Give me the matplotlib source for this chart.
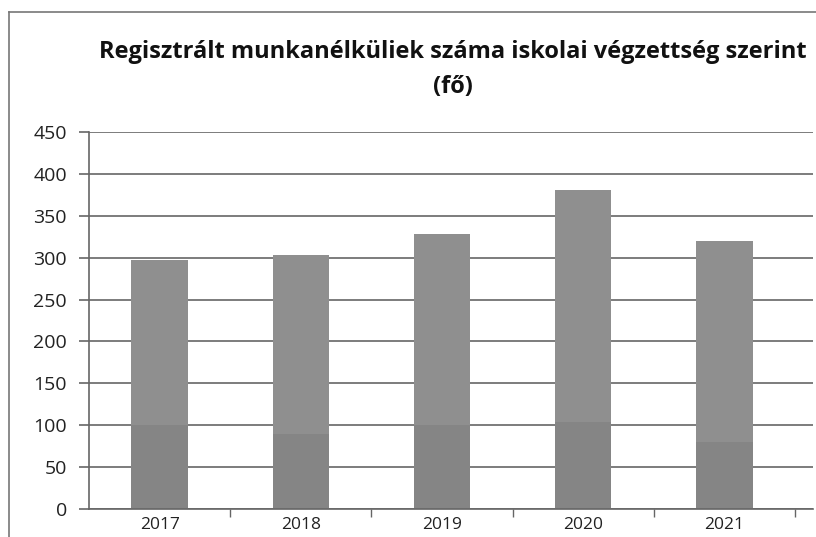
import matplotlib.pyplot as plt

# ==== Data ====
years = ["2017", "2018", "2019", "2020", "2021"]
lower_part = [100, 90, 100, 104, 80]
upper_part = [197, 213, 228, 277, 240]

W, H = 816, 537
plt.rcParams['font.family'] = ['Open Sans', 'DejaVu Sans']

fig = plt.figure(figsize=(W / 100, H / 100), dpi=100)
fig.patch.set_facecolor('white')

# plot area in pixel coords (left 89, bottom 509, top 132, right 813)
ax = fig.add_axes([89 / W, (H - 509) / H, (813 - 89) / W, (509 - 132) / H])

x = range(len(years))
ax.bar(x, lower_part, width=0.40, color='#858585', zorder=2)
ax.bar(x, upper_part, width=0.40, bottom=lower_part, color='#8f8f8f', zorder=2)

ax.set_xlim(-0.5, -0.5 + (813 - 89) / 141.2)
ax.set_ylim(0, 450)
ax.set_yticks(range(0, 451, 50))
ax.yaxis.grid(True, color='#666666', linewidth=1.2, zorder=0)
ax.set_axisbelow(True)

# category ticks sit between the bars
ax.set_xticks([i + 0.5 for i in range(len(years))])
ax.set_xticklabels([])
ax.tick_params(axis='x', length=6, width=1, color='#666666', direction='out')
ax.tick_params(axis='y', length=7, width=1.2, color='#666666', labelsize=14,
               labelcolor='#222222', pad=9)

for s in ['top', 'right']:
    ax.spines[s].set_visible(False)
for s in ['left', 'bottom']:
    ax.spines[s].set_color('#666666')
    ax.spines[s].set_linewidth(1.2)

# year labels under the bars
for i, yr in enumerate(years):
    ax.text(i, -0.022, yr, transform=ax.get_xaxis_transform(), ha='center', va='top',
            fontsize=12.5, color='#222222', clip_on=False)

# title (kept fully inside the figure)
fig.text(453 / W, 1 - 58 / H, "Regisztrált munkanélküliek száma iskolai végzettség szerint",
         ha='center', va='baseline', fontsize=17, fontweight='bold', color='#111111')
fig.text(453 / W, 1 - 93 / H, "(fő)", ha='center', va='baseline',
         fontsize=17, fontweight='bold', color='#111111')

# outer chart border
fig.add_artist(plt.Line2D([9 / W, 1.02], [1 - 12 / H, 1 - 12 / H], color='#777777', lw=1.2))
fig.add_artist(plt.Line2D([9 / W, 9 / W], [1 - 12 / H, -0.02], color='#777777', lw=1.2))

plt.savefig("out.png", dpi=100)
